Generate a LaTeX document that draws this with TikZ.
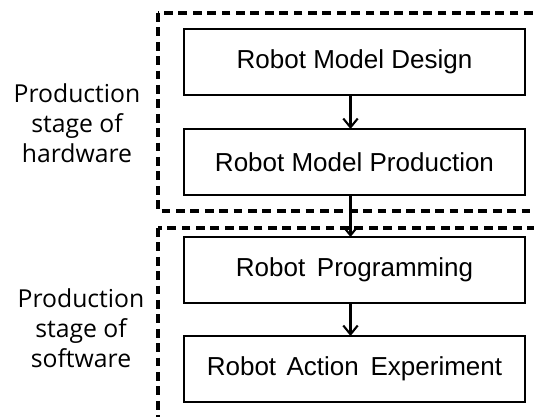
\documentclass[tikz,border=0pt]{standalone}
\usepackage{fontspec}
\setmainfont{Liberation Sans}
\newfontfamily\labelfont{Open Sans}
\usetikzlibrary{positioning, arrows.meta}

\begin{document}
\begin{tikzpicture}[inner sep=0, outer sep=0, line width=1.8pt,
  stepbox/.style={rectangle, draw=black, align=center,
    minimum width=8.525cm, minimum height=1.65cm,
    font=\fontsize{18.5pt}{22pt}\selectfont},
  stage/.style={draw=black, dash pattern=on 0.22cm off 0.14cm, line width=2.2pt},
  flow/.style={-{Straight Barb[length=0.22cm, width=0.36cm]}, line width=1.5pt},
  stagetext/.style={align=center, font=\labelfont\fontsize{17.6pt}{21.3pt}\selectfont}]
  \clip (0, 0) rectangle (13.35, -10.425);

  \node[stepbox] (design) at (8.8625, -1.55) {Robot Model Design};
  \node[stepbox, below=0.85cm of design] (production) {Robot Model Production};
  \node[stepbox, below=1.05cm of production] (programming) {Robot\hspace{0.45em}Programming};
  \node[stepbox, below=0.825cm of programming] (experiment) {Robot\hspace{0.4em}Action\hspace{0.45em}Experiment};

  \draw[flow] ([xshift=-0.1cm]design.south) -- ([xshift=-0.1cm]production.north);
  \draw[flow] ([xshift=-0.1cm]production.south) -- ([xshift=-0.1cm]programming.north);
  \draw[flow] ([xshift=-0.1cm]programming.south) -- ([xshift=-0.1cm]experiment.north);

  % stage frames, open to the right and bottom
  \draw[stage] ([xshift=-0.65cm, yshift=0.4cm]design.north west) rectangle ([xshift=1cm, yshift=-0.4cm]production.south east);
  \draw[stage] ([xshift=-0.65cm, yshift=0.225cm]programming.north west) rectangle ([xshift=1cm, yshift=-1cm]experiment.south east);

  \node[stagetext] (hardware) at (1.925, -3.075) {Production\\stage of\\hardware};
  \node[stagetext] (software) at (2.025, -8.2) {Production\\stage of\\software};
\end{tikzpicture}
\end{document}
